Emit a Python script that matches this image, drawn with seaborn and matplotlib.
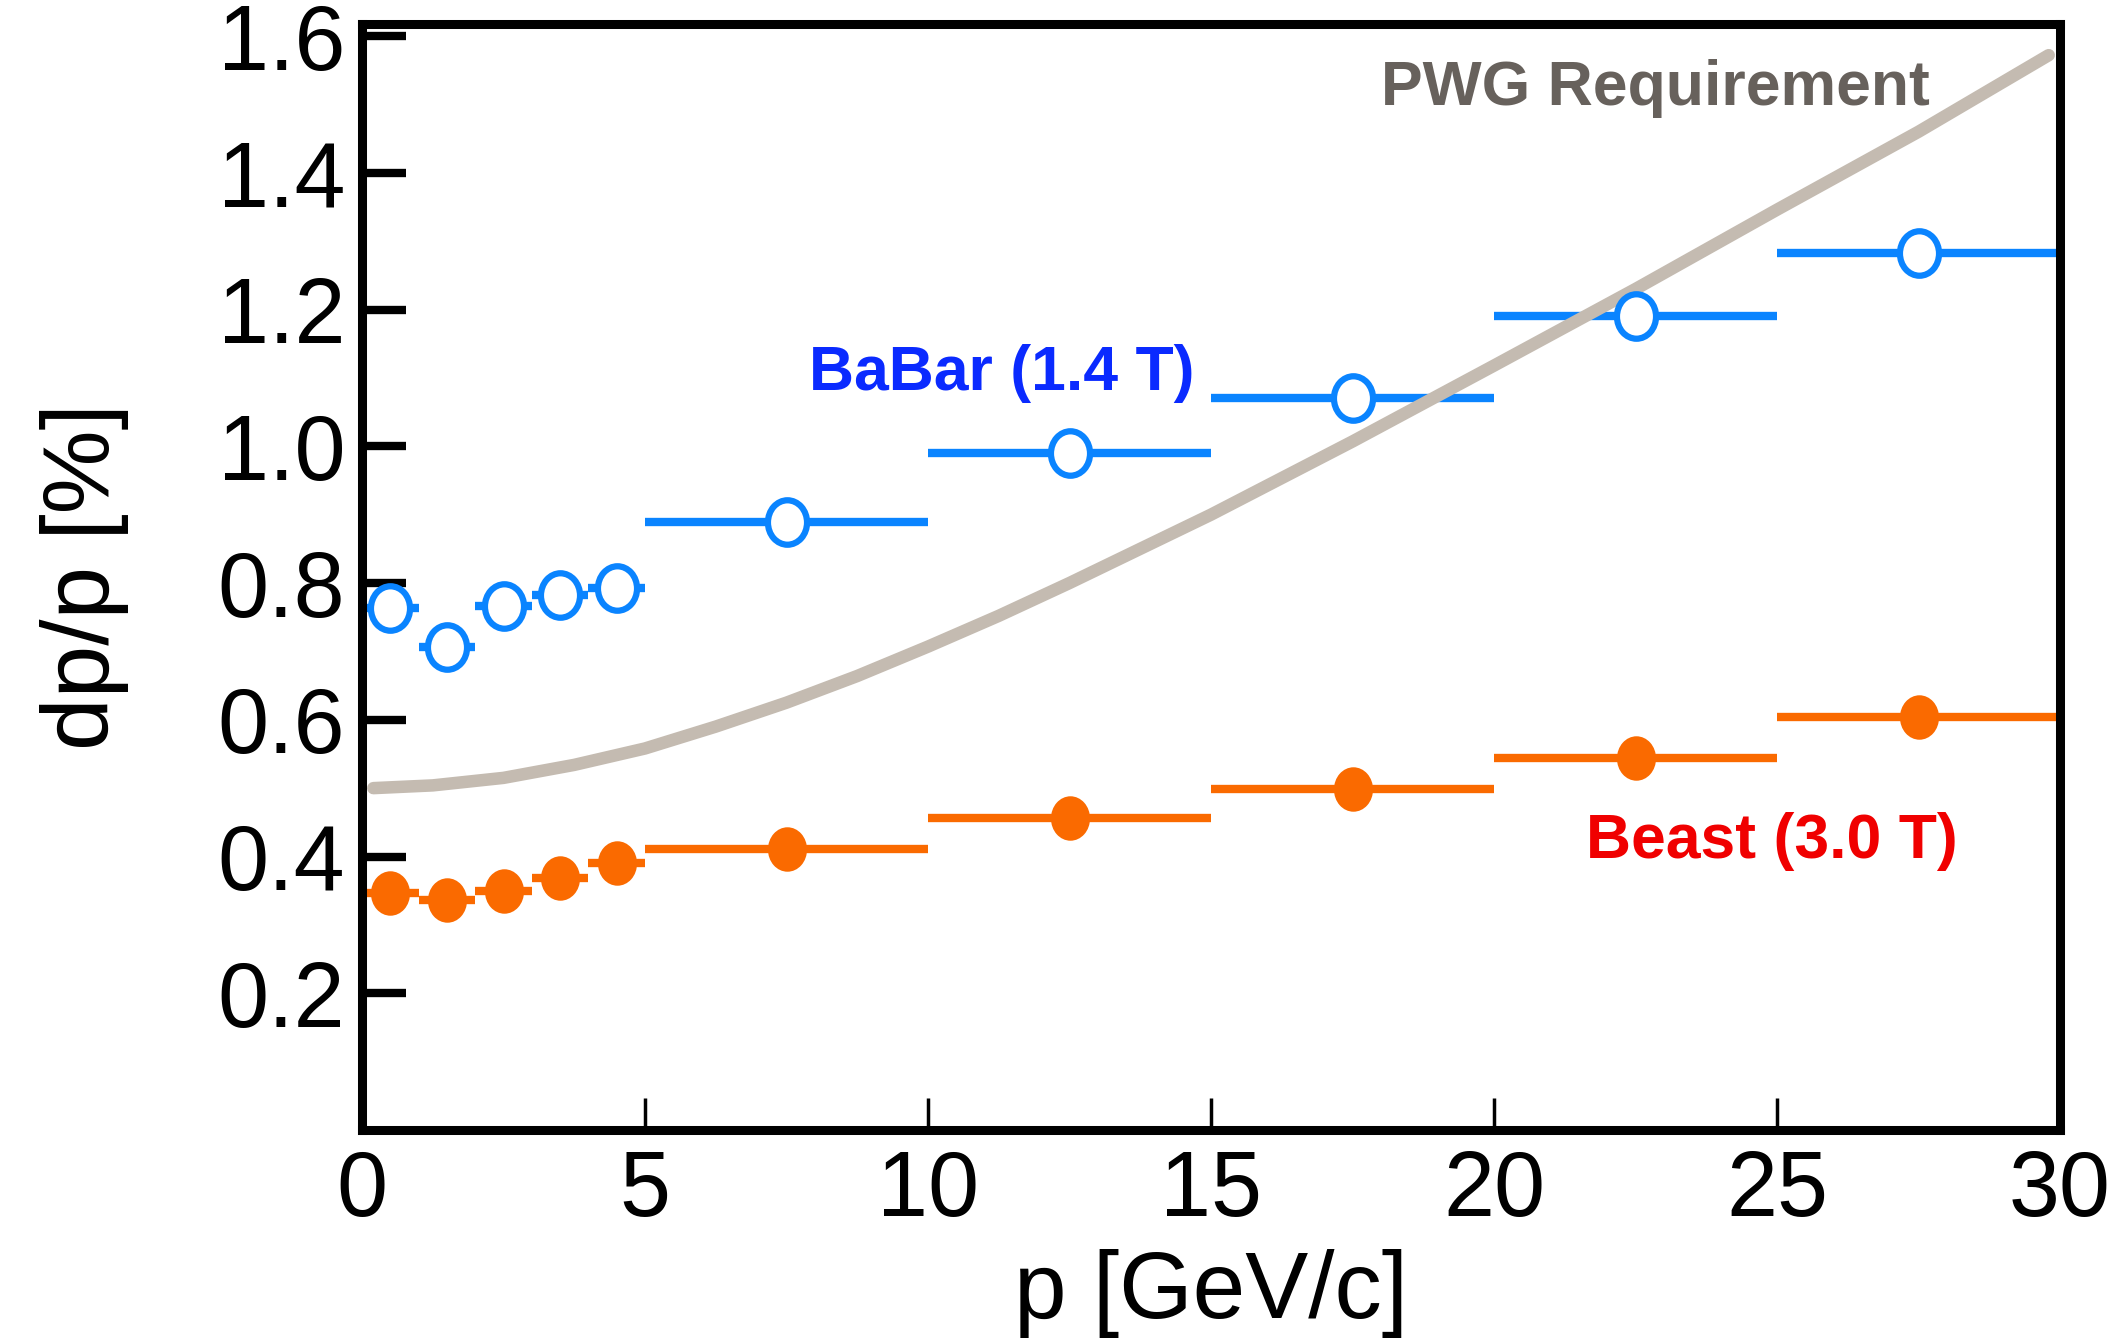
import numpy as np
import pandas as pd
import matplotlib
matplotlib.use("Agg")
import matplotlib.pyplot as plt
from matplotlib.path import Path
import seaborn as sns

# --- data --- #
p_center = [0.5, 1.5, 2.5, 3.5, 4.5, 7.5, 12.5, 17.5, 22.5, 27.5]
p_halfwidth = [0.5, 0.5, 0.5, 0.5, 0.5, 2.5, 2.5, 2.5, 2.5, 2.5]
babar_res = [0.763, 0.707, 0.766, 0.782, 0.792, 0.889, 0.990, 1.070, 1.190, 1.283]
beast_res = [0.346, 0.337, 0.350, 0.368, 0.390, 0.411, 0.457, 0.499, 0.544, 0.604]

# PWG requirement curve
pwg_p = [0.2, 1.25, 2.5, 3.75, 5.0, 6.25, 7.5, 8.75, 10.0, 11.25, 12.5,
         15.0, 17.5, 20.0, 22.5, 25.0, 27.5, 29.8]
pwg_res = [0.500, 0.504, 0.515, 0.534, 0.558, 0.590, 0.625, 0.664, 0.707,
           0.752, 0.800, 0.900, 1.007, 1.118, 1.230, 1.346, 1.460, 1.572]

y_ticks = [0.2, 0.4, 0.6, 0.8, 1.0, 1.2, 1.4, 1.6]
x_ticks = [0, 5, 10, 15, 20, 25, 30]

blue = "#0A84FF"
orange = "#FA6A00"
curve_grey = "#C4BBB1"

df = pd.DataFrame({"p": p_center, "dp": p_halfwidth,
                   "babar": babar_res, "beast": beast_res})
pwg = pd.DataFrame({"p": pwg_p, "res": pwg_res})

sns.set_style("white")
plt.rcParams['font.family'] = ['Liberation Sans', 'DejaVu Sans']

fig = plt.figure(figsize=(21.22, 13.43), dpi=100)
ax = fig.add_axes([0.1706, 0.1586, 0.8002, 0.8235])

# slightly tall ellipse marker like the stretched original
uc = Path.unit_circle()
ell = Path(uc.vertices * np.array([0.88, 1.0]), uc.codes)

# horizontal bin bars
ax.errorbar(df["p"], df["babar"], xerr=df["dp"], fmt="none",
            ecolor=blue, elinewidth=6, capsize=0, zorder=2)
ax.errorbar(df["p"], df["beast"], xerr=df["dp"], fmt="none",
            ecolor=orange, elinewidth=6, capsize=0, zorder=2)

# requirement curve
sns.lineplot(data=pwg, x="p", y="res", ax=ax, color=curve_grey,
             linewidth=9, zorder=3, sort=False)

# markers
sns.scatterplot(data=df, x="p", y="babar", ax=ax, marker=ell, s=32**2,
                facecolor="white", edgecolor=blue, linewidth=4.5, zorder=4)
sns.scatterplot(data=df, x="p", y="beast", ax=ax, marker=ell, s=32**2,
                color=orange, edgecolor=orange, linewidth=0, zorder=4)

ax.set_xlim(0, 30)
ax.set_ylim(0.0, 1.6175)
ax.set_xticks(x_ticks)
ax.set_yticks(y_ticks)
ax.set_xticklabels([str(t) for t in x_ticks])
ax.set_yticklabels([f"{t:.1f}" for t in y_ticks])

for side in ["left", "right", "top", "bottom"]:
    ax.spines[side].set_visible(True)
    ax.spines[side].set_color("black")
    ax.spines[side].set_linewidth(6.5)

ax.tick_params(axis="y", direction="in", length=32, width=6, labelsize=66,
               pad=12, left=True, right=False, colors="black")
ax.tick_params(axis="x", direction="in", length=23, width=2.5, labelsize=66,
               pad=14, bottom=True, top=False, colors="black")

ax.set_xlabel("p [GeV/c]", fontsize=68, labelpad=10, color="black")
ax.set_ylabel("dp/p [%]", fontsize=68, labelpad=64, color="black")

# annotations
ax.text(22.85, 1.499, "PWG Requirement", fontsize=45, fontweight="bold",
        color="#67615C", ha="center", va="baseline")
ax.text(11.31, 1.083, "BaBar (1.4 T)", fontsize=45, fontweight="bold",
        color="#0A2AFF", ha="center", va="baseline")
ax.text(24.91, 0.3985, "Beast (3.0 T)", fontsize=45, fontweight="bold",
        color="#F00000", ha="center", va="baseline")

fig.savefig("out.png", dpi=100, facecolor="white")
